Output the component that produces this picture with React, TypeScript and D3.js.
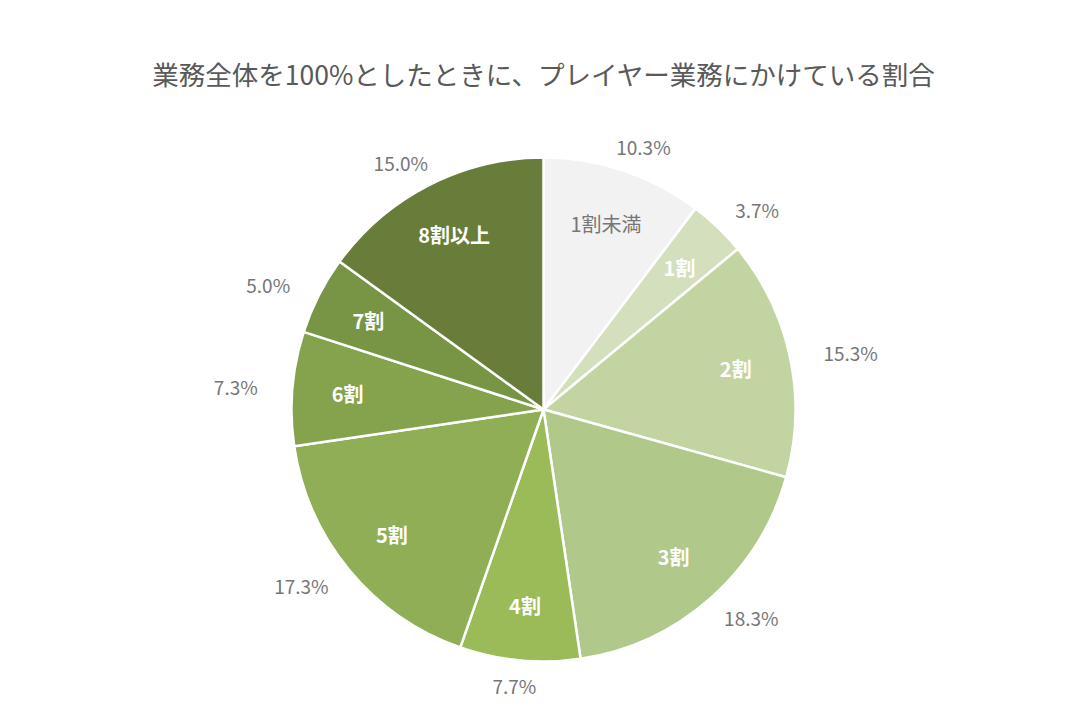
import React, { useEffect } from "react";
import * as d3 from "d3";

const categories = ["1割未満", "1割", "2割", "3割", "4割", "5割", "6割", "7割", "8割以上"];
const values = [10.3, 3.7, 15.3, 18.3, 7.7, 17.3, 7.3, 5.0, 15.0];
const colors = ["#f2f2f2", "#d3dfbd", "#c2d4a2", "#b0c88a", "#9bbb59", "#8fae55", "#85a24d", "#789545", "#687d39"];
const innerTextColors = ["#767676", "#ffffff", "#ffffff", "#ffffff", "#ffffff", "#ffffff", "#ffffff", "#ffffff", "#ffffff"];
const title = "業務全体を100%としたときに、プレイヤー業務にかけている割合";

const W = 1085;
const H = 727;
const FONT = "'Noto Sans CJK JP', 'Noto Sans', sans-serif";

export default function App() {
  useEffect(() => {
    document.body.style.margin = "0";
  }, []);

  const cx = 543.5;
  const cy = 409.5;
  const r = 252;

  const pie = d3.pie<number>().sort(null).value((d) => d).startAngle(0).endAngle(2 * Math.PI);
  const arcs = pie(values);
  const arcGen = d3.arc<d3.PieArcDatum<number>>().innerRadius(0).outerRadius(r);

  return (
    <svg width={W} height={H} style={{ display: "block" }} fontFamily={FONT}>
      <rect width={W} height={H} fill="#ffffff" />
      <text x={cx} y={85} textAnchor="middle" fontSize={26.5} fill="#595959">
        {title}
      </text>
      <g transform={`translate(${cx},${cy})`}>
        {arcs.map((a, i) => (
          <path key={i} d={arcGen(a) || ""} fill={colors[i]} stroke="#ffffff" strokeWidth={2.5} strokeLinejoin="round" />
        ))}
        {arcs.map((a, i) => {
          const mid = (a.startAngle + a.endAngle) / 2;
          const s = Math.sin(mid);
          const c = -Math.cos(mid);
          const ri = r * 0.78;
          return (
            <text
              key={"in" + i}
              x={s * ri}
              y={c * ri}
              textAnchor="middle"
              dominantBaseline="central"
              fontSize={20}
              fontWeight={i === 0 ? 400 : 700}
              fill={innerTextColors[i]}
            >
              {categories[i]}
            </text>
          );
        })}
        {arcs.map((a, i) => {
          const mid = (a.startAngle + a.endAngle) / 2;
          const s = Math.sin(mid);
          const c = -Math.cos(mid);
          const label = values[i].toFixed(1) + "%";
          const w = label.length * 10.4;
          const x = s * (r + 36) + s * (w / 2);
          const y = c * (r + 16) + c * 9;
          return (
            <text
              key={"out" + i}
              x={x}
              y={y}
              textAnchor="middle"
              dominantBaseline="central"
              fontSize={19}
              fill="#767676"
            >
              {label}
            </text>
          );
        })}
      </g>
    </svg>
  );
}
